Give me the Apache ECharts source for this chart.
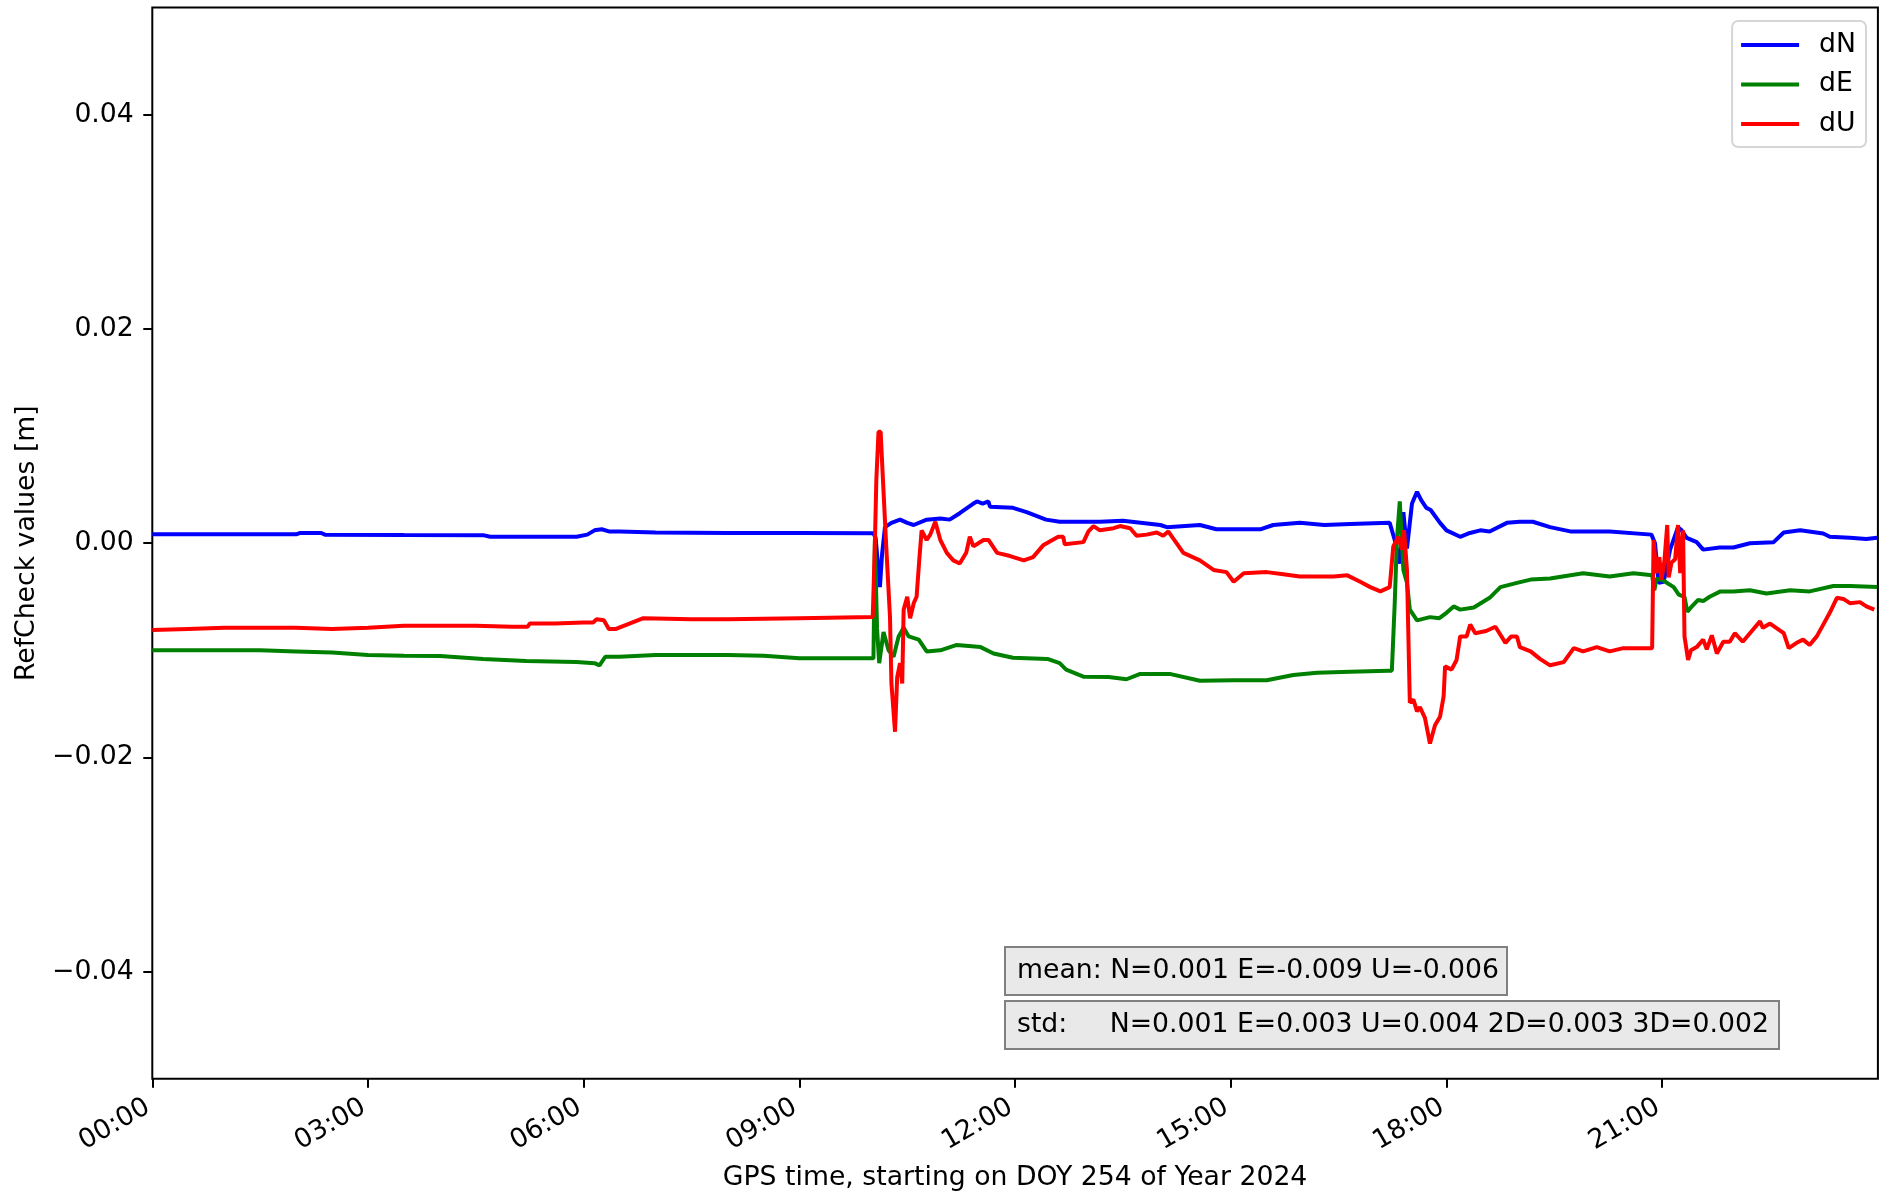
<!DOCTYPE html>
<html>
<head>
<meta charset="utf-8">
<title>RefCheck DOY 254 / 2024</title>
<script src="https://cdn.jsdelivr.net/npm/echarts@6/dist/echarts.min.js"></script>
<style>
  html, body { margin: 0; padding: 0; background: #ffffff; }
  #chart { width: 1880px; height: 1201px; }
</style>
</head>
<body>
<div id="chart"></div>
<script>
// RefCheck position differences, [GPS hour of day, metres]
const dN = [
  [0, 0.00083], [1.0, 0.00083], [2.0, 0.00083], [2.05, 0.00095], [2.35, 0.00095], [2.4, 0.0008],
  [3.5, 0.00077], [4.6, 0.00075], [4.7, 0.0006], [5.5, 0.0006], [5.9, 0.0006], [6.05, 0.0008],
  [6.15, 0.0012], [6.25, 0.0013], [6.35, 0.0011], [6.5, 0.0011], [7.0, 0.001], [8.0, 0.00095],
  [9.0, 0.00095], [10.03, 0.00092], [10.06, 0.0005], [10.12, -0.0041], [10.15, -0.001], [10.19, 0.0015],
  [10.28, 0.0019], [10.4, 0.0022], [10.5, 0.0019], [10.59, 0.0017], [10.77, 0.0022], [10.96, 0.0023],
  [11.09, 0.0022], [11.23, 0.0028], [11.42, 0.0037], [11.47, 0.0039], [11.55, 0.0037], [11.63, 0.0039],
  [11.65, 0.0034], [11.97, 0.0033], [12.16, 0.0029], [12.43, 0.0022], [12.62, 0.002], [13.18, 0.002],
  [13.5, 0.0021], [14.02, 0.0017], [14.11, 0.0015], [14.57, 0.0017], [14.8, 0.0013], [15.41, 0.0013],
  [15.59, 0.0017], [15.96, 0.0019], [16.3, 0.0017], [16.66, 0.0018], [17.21, 0.0019], [17.28, 0.0003],
  [17.35, -0.0019], [17.4, 0.0029], [17.45, -0.0005], [17.52, 0.0037], [17.59, 0.0048], [17.65, 0.004],
  [17.72, 0.0033], [17.78, 0.0031], [17.91, 0.0019], [18.0, 0.0012], [18.19, 0.0006], [18.3, 0.0009],
  [18.47, 0.0012], [18.6, 0.0011], [18.84, 0.0019], [19.02, 0.002], [19.2, 0.002], [19.44, 0.0015],
  [19.72, 0.0011], [20.27, 0.0011], [20.85, 0.0008], [20.9, 0.0], [20.95, -0.0037], [21.02, -0.0036],
  [21.11, -0.0006], [21.22, 0.0015], [21.27, 0.0012], [21.34, 0.0005], [21.48, 0.0001], [21.57, -0.0006],
  [21.8, -0.0004], [21.99, -0.0004], [22.22, 0.0], [22.55, 0.0001], [22.69, 0.001], [22.92, 0.0012],
  [23.24, 0.0009], [23.33, 0.0006], [23.61, 0.0005], [23.84, 0.0004], [23.99, 0.0005]
];
const dE = [
  [0, -0.01], [0.5, -0.01], [1.0, -0.01], [1.5, -0.01], [2.0, -0.0101], [2.5, -0.0102],
  [3.0, -0.01044], [3.5, -0.0105], [4.0, -0.01053], [4.6, -0.0108], [5.2, -0.011], [5.9, -0.0111],
  [6.15, -0.0112], [6.22, -0.0114], [6.3, -0.0106], [6.5, -0.0106], [7.0, -0.01044], [8.0, -0.01044],
  [8.5, -0.0105], [9.0, -0.01075], [10.03, -0.01075], [10.05, 0.0003], [10.08, -0.008], [10.11, -0.0112],
  [10.17, -0.0083], [10.24, -0.01], [10.31, -0.0106], [10.38, -0.0087], [10.45, -0.0079], [10.52, -0.0087],
  [10.66, -0.009], [10.77, -0.0101], [10.96, -0.01], [11.19, -0.0095], [11.52, -0.0097], [11.7, -0.0103],
  [11.97, -0.0107], [12.45, -0.0108], [12.62, -0.0112], [12.71, -0.0118], [12.95, -0.01246], [13.3, -0.0125],
  [13.55, -0.0127], [13.74, -0.0122], [14.15, -0.0122], [14.57, -0.01284], [15.04, -0.0128], [15.5, -0.0128],
  [15.87, -0.0123], [16.2, -0.0121], [16.66, -0.012], [17.19, -0.0119], [17.24, -0.0119], [17.28, -0.0056],
  [17.31, 0.0003], [17.35, 0.0039], [17.4, -0.0025], [17.45, -0.0037], [17.49, -0.0062], [17.59, -0.0072],
  [17.77, -0.0069], [17.9, -0.007], [18.0, -0.0065], [18.1, -0.0059], [18.19, -0.0062], [18.38, -0.006],
  [18.6, -0.0051], [18.75, -0.0041], [18.98, -0.0037], [19.17, -0.0034], [19.44, -0.0033], [19.9, -0.0028],
  [20.27, -0.0031], [20.6, -0.0028], [20.86, -0.003], [20.89, -0.0044], [20.92, -0.0033], [21.02, -0.0035],
  [21.16, -0.0041], [21.23, -0.0048], [21.31, -0.005], [21.35, -0.0064], [21.4, -0.006], [21.5, -0.0053],
  [21.57, -0.0054], [21.66, -0.005], [21.81, -0.0045], [21.99, -0.0045], [22.22, -0.0044], [22.45, -0.0047],
  [22.78, -0.0044], [23.05, -0.0045], [23.38, -0.004], [23.61, -0.004], [23.99, -0.0041]
];
const dU = [
  [0, -0.0081], [0.5, -0.008], [1.0, -0.0079], [1.5, -0.0079], [2.0, -0.0079], [2.5, -0.008],
  [3.0, -0.0079], [3.5, -0.0077], [4.0, -0.0077], [4.5, -0.0077], [5.0, -0.0078], [5.22, -0.0078],
  [5.25, -0.0075], [5.6, -0.0075], [6.0, -0.0074], [6.13, -0.0074], [6.18, -0.0071], [6.28, -0.0072],
  [6.35, -0.008], [6.45, -0.008], [6.6, -0.0076], [6.83, -0.007], [7.5, -0.0071], [8.0, -0.0071],
  [9.0, -0.007], [10.02, -0.0069], [10.05, 0.0], [10.07, 0.0059], [10.1, 0.0104], [10.13, 0.0104],
  [10.16, 0.0062], [10.21, -0.0006], [10.26, -0.0069], [10.28, -0.0131], [10.33, -0.0176], [10.36, -0.0125],
  [10.4, -0.0112], [10.43, -0.0131], [10.45, -0.0062], [10.5, -0.005], [10.54, -0.007], [10.59, -0.0056],
  [10.63, -0.005], [10.67, -0.0013], [10.7, 0.0012], [10.77, 0.0003], [10.82, 0.0008], [10.89, 0.002],
  [10.96, 0.0003], [11.05, -0.0009], [11.14, -0.0016], [11.23, -0.0019], [11.32, -0.0009], [11.37, 0.0006],
  [11.42, -0.0003], [11.56, 0.0003], [11.63, 0.0003], [11.75, -0.0009], [11.93, -0.0012], [12.12, -0.0016],
  [12.25, -0.0013], [12.39, -0.0002], [12.6, 0.0006], [12.67, 0.0006], [12.69, -0.0001], [12.95, 0.0001],
  [13.02, 0.0011], [13.09, 0.0016], [13.18, 0.0012], [13.37, 0.0014], [13.46, 0.0016], [13.6, 0.0014],
  [13.69, 0.0007], [13.83, 0.0008], [13.97, 0.001], [14.06, 0.0007], [14.13, 0.0011], [14.34, -0.0009],
  [14.57, -0.0016], [14.76, -0.0025], [14.94, -0.0027], [15.04, -0.0036], [15.18, -0.0028], [15.5, -0.0027],
  [15.73, -0.0029], [15.96, -0.0031], [16.43, -0.0031], [16.62, -0.003], [16.8, -0.0036], [16.94, -0.0041],
  [17.08, -0.0045], [17.21, -0.0041], [17.26, -0.0003], [17.33, 0.0006], [17.38, -0.0006], [17.41, 0.0012],
  [17.45, -0.0025], [17.49, -0.0149], [17.54, -0.0146], [17.59, -0.0157], [17.63, -0.0153], [17.7, -0.0163],
  [17.77, -0.0187], [17.84, -0.017], [17.91, -0.0162], [17.96, -0.0143], [17.98, -0.0115], [18.07, -0.0118],
  [18.14, -0.0109], [18.19, -0.0087], [18.28, -0.0087], [18.33, -0.0076], [18.4, -0.0084], [18.55, -0.0082],
  [18.68, -0.0078], [18.82, -0.0093], [18.9, -0.0087], [18.98, -0.0087], [19.02, -0.0097], [19.17, -0.0101],
  [19.3, -0.0108], [19.44, -0.0114], [19.63, -0.0111], [19.77, -0.0098], [19.9, -0.0101], [20.09, -0.0097],
  [20.27, -0.0101], [20.46, -0.0098], [20.86, -0.0098], [20.88, 0.0003], [20.92, -0.0028], [20.96, -0.0013],
  [20.99, -0.0034], [21.03, -0.0017], [21.07, 0.0017], [21.09, -0.0032], [21.13, -0.0018], [21.18, -0.0015],
  [21.22, 0.0017], [21.25, -0.0028], [21.29, 0.0012], [21.31, -0.0087], [21.36, -0.0109], [21.4, -0.01],
  [21.48, -0.0097], [21.57, -0.009], [21.62, -0.0099], [21.69, -0.0086], [21.76, -0.0103], [21.85, -0.0092],
  [21.94, -0.0092], [22.01, -0.0084], [22.12, -0.0092], [22.22, -0.0084], [22.36, -0.0073], [22.4, -0.0079],
  [22.5, -0.0075], [22.69, -0.0084], [22.76, -0.0098], [22.87, -0.0093], [22.96, -0.009], [23.05, -0.0095],
  [23.15, -0.0087], [23.24, -0.0076], [23.33, -0.0065], [23.43, -0.0051], [23.52, -0.0052], [23.61, -0.0056],
  [23.75, -0.0055], [23.84, -0.0059], [23.95, -0.0062]
];

// axis ticks
const xTickHours = [0, 3, 6, 9, 12, 15, 18, 21];
const yTickValues = [-0.04, -0.02, 0.0, 0.02, 0.04];

// statistics printed in the lower boxes
const meanText = 'mean: N=0.001 E=-0.009 U=-0.006';
const stdText = 'std:     N=0.001 E=0.003 U=0.004 2D=0.003 3D=0.002';

const FONT = 'DejaVu Sans';
const FS = 26.7;

function hourLabel(h) {
  const hh = Math.round(h);
  return (hh < 10 ? '0' : '') + hh + ':00';
}
function metreLabel(v) {
  const s = Math.abs(v).toFixed(2);
  return v < -1e-9 ? '\u2212' + s : s;
}

const chart = echarts.init(document.getElementById('chart'), null, { renderer: 'canvas' });

const lineSeries = (name, data, color) => ({
  name: name,
  type: 'line',
  data: data,
  symbol: 'none',
  showSymbol: false,
  smooth: false,
  animation: false,
  lineStyle: { color: color, width: 4 },
  itemStyle: { color: color }
});

chart.setOption({
  animation: false,
  backgroundColor: '#ffffff',
  textStyle: { fontFamily: FONT },
  grid: {
    left: 152.3, right: 2.1, top: 7.6, bottom: 122.2,
    show: true, borderColor: '#000000', borderWidth: 2, backgroundColor: 'transparent'
  },
  xAxis: {
    type: 'value',
    min: 0, max: 24, interval: 3,
    name: 'GPS time, starting on DOY 254 of Year 2024',
    nameLocation: 'middle',
    nameGap: 86,
    nameTextStyle: { fontFamily: FONT, fontSize: FS, color: '#000' },
    axisLine: { show: false, onZero: false },
    splitLine: { show: false },
    axisTick: {
      show: true, inside: false, length: 9,
      customValues: xTickHours,
      lineStyle: { color: '#000', width: 2 }
    },
    axisLabel: {
      customValues: xTickHours,
      rotate: 30,
      margin: 24,
      padding: [0, 5, 0, 0],
      fontFamily: FONT, fontSize: FS, color: '#000',
      formatter: hourLabel
    }
  },
  yAxis: {
    type: 'value',
    min: -0.05, max: 0.05,
    name: 'RefCheck values [m]',
    nameLocation: 'middle',
    nameGap: 112,
    nameTextStyle: { fontFamily: FONT, fontSize: FS, color: '#000' },
    axisLine: { show: false, onZero: false },
    splitLine: { show: false },
    axisTick: {
      show: true, inside: false, length: 9,
      customValues: yTickValues,
      lineStyle: { color: '#000', width: 2 }
    },
    axisLabel: {
      customValues: yTickValues,
      margin: 18.5,
      fontFamily: FONT, fontSize: FS, color: '#000',
      formatter: metreLabel
    }
  },
  legend: {
    orient: 'vertical',
    right: 14, top: 21,
    padding: [9, 10, 8, 9],
    itemGap: 9.5,
    itemWidth: 58,
    itemHeight: 4,
    icon: 'rect',
    backgroundColor: '#ffffff',
    borderColor: '#d6d6d6',
    borderWidth: 2,
    borderRadius: 6,
    selectedMode: false,
    textStyle: { fontFamily: FONT, fontSize: FS, color: '#000', lineHeight: 30, padding: [0, 0, 0, 15] },
    data: ['dN', 'dE', 'dU']
  },
  series: [
    lineSeries('dN', dN, '#0000ff'),
    lineSeries('dE', dE, '#008000'),
    lineSeries('dU', dU, '#ff0000')
  ],
  graphic: [
    { type: 'rect', shape: { x: 1005, y: 947, width: 502, height: 48 },
      style: { fill: '#e9e9e9', stroke: '#808080', lineWidth: 2 }, z: 100 },
    { type: 'text', x: 1017, y: 971,
      style: { text: meanText, font: FS + 'px "' + FONT + '"', fill: '#000', textVerticalAlign: 'middle', verticalAlign: 'middle' }, z: 101 },
    { type: 'rect', shape: { x: 1005, y: 1001, width: 774, height: 48 },
      style: { fill: '#e9e9e9', stroke: '#808080', lineWidth: 2 }, z: 100 },
    { type: 'text', x: 1017, y: 1025,
      style: { text: stdText, font: FS + 'px "' + FONT + '"', fill: '#000', textVerticalAlign: 'middle', verticalAlign: 'middle' }, z: 101 }
  ]
});
</script>
</body>
</html>
